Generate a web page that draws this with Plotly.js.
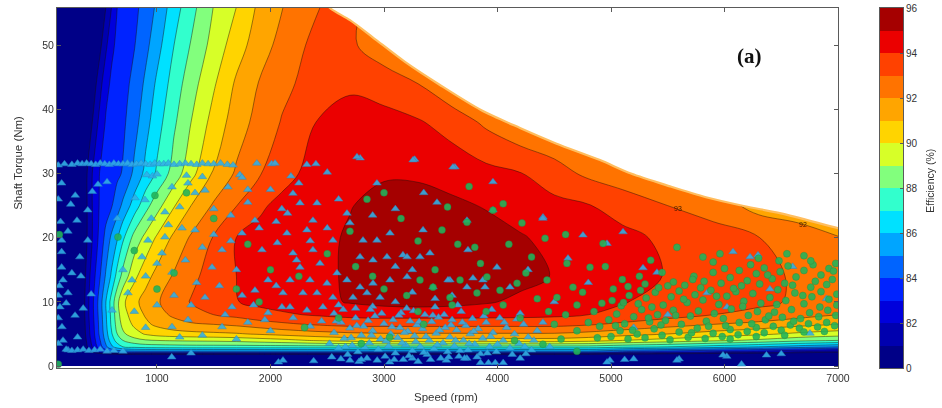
<!DOCTYPE html>
<html><head><meta charset="utf-8">
<script src="https://cdn.plot.ly/plotly-3.0.1.min.js"></script>
<style>html,body{margin:0;padding:0;background:#fff}#chart{width:942px;height:408px}</style>
</head><body><div id="chart"></div>
<script>
// ---- efficiency map grid ----
const speedGrid = [110,400,450,500,550,600,650,700,800,900,1000,1150,1300,1500,1700,1900,2100,2400,2700,3000,3300,3600,3900,4200,4500,4800,5100,5500,5900,6300,6650,7000];
const torqueGrid = [0,1.5,2.2,3,4,5,6.5,8,10,14,20,25,30,38,44,50,56];
const efficiency = [
[72,72,72,72,72,72,72,72,72,72,72,72,72,72,72,72,72,72,72,72,72,72,72,72,72,72,72,72,72,72,72,72],
[74,77,77.5,78,78,78,78,78,78,78,78,78,78,78,78,78,78,78,78,78,78,78,78,78,78,78,78,77.5,77.5,77,77,77],
[74,80.5,81.6,82.6,83.4,84.0,84.3,84.4,84.5,84.5,84.5,84.5,84.5,84.5,84.5,84.5,84.5,84.5,84.5,84.5,84.5,84.5,84.5,84.5,84.5,84.5,83.8,83.3,82.8,82.3,81.8,81.3],
[74,81.3,82.5,83.6,84.8,85.8,86.5,87.0,87.3,87.45,87.5,87.55,87.6,87.6,87.6,87.6,87.6,87.6,87.6,87.6,87.6,87.6,87.6,87.6,87.6,87.6,87.3,87.0,86.5,86.0,85.5,85.0],
[74,81.6,82.8,84.0,85.3,86.5,87.4,88.0,88.6,88.9,89.0,89.1,89.15,89.2,89.3,89.5,89.7,90.1,90.4,90.6,90.6,90.6,90.6,90.6,90.6,90.4,90.0,89.6,89.2,88.8,88.3,88.0],
[74,81.8,83.0,84.3,85.6,86.9,88.0,88.8,89.6,90.1,90.4,90.6,90.7,90.8,90.9,91.1,91.3,91.6,91.8,91.9,91.9,91.9,91.9,91.9,91.9,91.7,91.4,91.0,90.6,90.2,89.8,89.5],
[74,81.9,83.1,84.4,85.8,87.2,88.4,89.3,90.2,90.8,91.2,91.6,91.85,92.0,92.2,92.5,92.8,93.1,93.3,93.3,93.3,93.3,93.3,93.3,93.3,93.1,92.8,92.4,92.0,91.7,91.3,91.0],
[74,82.0,83.2,84.5,85.9,87.3,88.6,89.6,90.5,91.1,91.6,92.2,92.7,93.0,93.3,93.7,93.85,94.1,94.3,94.4,94.4,94.4,94.35,94.3,94.2,94.0,93.8,93.4,93.0,92.8,92.4,92.0],
[74,82.0,83.25,84.57,86.0,87.43,88.75,89.8,90.75,91.37,91.89,92.51,93.06,93.52,93.97,94.2,94.42,94.7,95.08,95.3,95.4,95.3,95.1,94.8,94.5,94.25,94.05,93.7,93.4,93.15,92.9,92.7],
[74,81.8,82.9,84.0,85.14,86.19,87.38,88.35,89.75,90.65,91.32,92.12,92.75,93.42,94.0,94.2,94.4,94.7,95.15,95.5,95.75,95.8,95.6,95.3,94.95,94.6,94.35,93.95,93.6,93.2,92.9,92.7],
[74,81.4,82.4,83.38,84.32,85.2,85.91,86.83,88.36,89.28,90.14,91.22,92.13,93.07,94.01,94.22,94.43,94.75,95.1,95.5,95.7,95.6,95.4,95.08,94.75,94.45,94.2,93.85,93.4,93.02,92.6,92.05],
[74,81.4,82.4,83.15,83.54,83.92,84.55,85.22,86.46,87.65,88.61,89.93,91.0,92.14,92.98,93.87,94.21,94.59,94.96,95.3,95.4,95.2,94.93,94.6,94.3,94.05,93.7,93.0,92.6,91.6,91.3,91.0],
[74,81.4,82.4,83.09,83.33,83.57,83.8,84.09,85.23,86.28,87.16,88.43,89.7,91.09,92.15,92.9,93.71,94.3,94.7,94.9,94.85,94.6,94.3,94.05,93.4,92.8,92.3,92.0,91.8,91.6,91.4,91.2],
[74,80.4,81.4,82.4,83.1,83.33,83.57,83.81,84.6,85.63,86.59,87.84,89.0,90.38,91.5,92.36,93.06,94.0,94.35,94.3,94.1,93.6,92.8,92.1,92.0,92.0,92.0,92.0,91.8,91.6,91.4,91.2],
[74,79.7,80.7,81.7,82.7,83.17,83.41,83.66,84.27,85.2,86.18,87.44,88.58,89.88,91.16,92.05,92.75,93.4,93.85,93.6,93.0,92.1,92.0,92.0,92.0,92.0,92.0,92.0,91.8,91.6,91.4,91.2],
[74,78.8,79.8,80.8,81.8,82.8,83.2,83.45,83.95,84.72,85.62,87.0,88.07,89.38,90.53,91.54,92.31,93.3,93.2,92.3,92.0,92.0,92.0,92.0,92.0,92.0,92.0,92.0,91.8,91.6,91.4,91.2],
[74,78,79,80,81,82,83,83.25,83.75,84.38,85.17,86.54,87.65,89.03,90.0,91.2,91.96,92.97,93.2,92.6,92.2,92.2,92.2,92.2,92.2,92.2,92.2,92.2,92.0,91.8,91.6,91.4]
];
// max-torque envelope (white area above it)
const envelopeSpeed = [2480,2524,2700,2903,3185,3493,3854,4198,4515,4903,5176,5520,5837,6180,6497,7000,7100];
const envelopeTorque = [57,55.8,53.9,51.2,47.4,43.8,39.9,37.1,34.7,32.1,30.0,28.0,26.3,24.9,23.8,21.5,21.1];

// contour band colours (below 81 ... above 95) and colour bar levels
const bandColors = ['rgb(0,0,135)','rgb(0,0,175)','rgb(0,0,220)','rgb(0,35,255)','rgb(0,100,255)','rgb(0,165,255)','rgb(0,225,255)','rgb(50,255,205)','rgb(130,255,125)','rgb(215,255,40)','rgb(255,212,0)','rgb(255,165,0)','rgb(255,115,0)','rgb(255,65,0)','rgb(235,0,0)','rgb(165,0,0)'];
const barLevels = [80,81,82,83,84,85,86,87,88,89,90,91,92,93,94,95,96];
const barTickVals = [80,82,84,86,88,90,92,94,96];
const barTickText = ['0','82','84','86','88','90','92','94','96'];
const speedTicks = [1000,2000,3000,4000,5000,6000,7000];
const torqueTicks = [0,10,20,30,40,50];

// operating points: blue triangles
const triangles = [
[130,31.3],[185,31.5],[250,31.4],[300,31.6],[340,31.5],[380,31.6],[420,31.5],[460,31.4],[500,31.6],[540,31.5],[580,31.4],[620,31.6],[660,31.5],[700,31.5],[740,31.6],[780,31.4],[820,31.5],[860,31.6],[900,31.5],[940,31.4],[980,31.6],[1020,31.5],[1060,31.5],[1100,31.6],[1150,31.4],[1200,31.5],[1250,31.6],[1300,31.5],[1350,31.4],[1400,31.6],[1450,31.5],[1500,31.5],[1560,31.6],[1620,31.4],[1670,31.3],[1880,31.6],[2010,31.5],[2320,31.4],[2400,31.5],
[2790,32.4],[3270,32.2],[2040,31.6],[2762,32.6],[3625,31.0],
[910,29.8],[960,29.6],[1000,29.9],[1260,29.7],[1400,29.5],[1730,29.8],[2180,29.6],[2500,30.2],
[160,28.5],[280,26.6],[390,24.3],[480,28.3],[560,28.7],[295,22.7],[390,19.6],[160,19.6],[320,17],[160,15.4],[172,13.4],[216,11.4],[145,9.2],[278,7.9],[163,6.1],[172,4],[216,2.5],[130,26],[240,25.2],[430,27.2],[150,22.5],[215,21],[330,14],[420,11.2],[130,11],[250,14.5],[350,9],[160,17.8],[130,3.5],[300,4.5],[140,12.5],[200,9.8],[130,7.5],
[200,2.6],[250,2.4],[300,2.5],[350,2.6],[400,2.4],[450,2.5],[500,2.6],[560,2.3],[620,2.4],[700,2.3],[1130,1.4],[1300,2.0],
[806,26.2],[894,25.9],[1132,27.9],[1273,28.5],[1335,27],[1423,27.4],[1625,27.9],[1749,29.4],[1863,22.7],[1070,24],[1220,21.5],[1335,21.2],[1070,20.1],[920,19.6],[868,17],[1044,17.6],[1132,14.6],[1485,15.4],[1573,18.1],[1749,20.7],[1925,18.1],[1978,13.4],[1863,11.8],[1661,9.2],[1423,10.7],[1273,7.2],[744,11.4],[780,13.4],[604,8.7],[1132,6.1],[1573,6.1],[1978,8.3],[2101,9.2],[1500,24.5],[1650,23.5],[1800,25.5],[2000,27.5],[2100,24.5],[2250,28.5],[1200,24.8],[1400,18.5],[1700,15],[1550,12.5],[1800,6.8],[1000,9.5],[900,14],[2000,5.5],[1400,4.8],[1700,4.2],
[1850,9.5],[1950,7.2],[2050,12.5],[2200,7.5],[2350,6.2],[2450,7.0],[2230,16.5],[2060,19.2],[1900,21.5],[2150,23.8],[1750,11],[1650,19.5],[1500,20.5],[1350,13],[1250,16.5],[1100,22],[950,23],[1150,11],[1300,9.5],[1600,8],[1200,4.5],[900,6],[800,8.5],[1000,16],[700,15],[650,23],[1800,27.5],
[2198,26.9],[2260,25.4],[2410,25.4],[2374,22.7],[2674,23.8],[2700,22.3],[2145,20.7],[2321,21.2],[2550,19.6],[2198,17.6],[2374,18.1],[2815,19.6],[2938,19.6],[2789,17],[2903,16.5],[3026,17],[3167,17.3],[3317,17],[3405,17.6],[2260,15.4],[2436,16],[2586,14.5],[2172,13.4],[2348,13.4],[2498,12.9],[2674,13.4],[2789,12.3],[2903,12.9],[3053,13.4],[3203,13.9],[2110,11.4],[2286,11.4],[2410,11.4],[2550,10.7],[2727,10.7],[2850,11.4],[2965,10.7],[2172,9.2],[2321,8.7],[2462,9.2],
[2600,9.5],[2750,9],[2900,9.3],[3100,10],[3250,11.5],[3450,10.5],[3600,11],[3100,15.5],[3250,15],[2500,21.5],[2600,26],[2350,19.5],[2050,22.5],[2900,23.5],
[3256,32.1],[3608,31],[2938,28.5],[3467,25.5],[3960,28.7],[3731,22.7],[3960,24.3],[3053,20.7],[3344,21.2],[3740,18.1],[3995,15.4],[4110,12.3],[3581,13.4],[3731,12.3],[3872,13.4],[3432,12.3],[3203,17],[3564,13.4],[3784,13.7],[3890,12.3],[4269,15],[4401,23.2],[4753,20.4],[5106,20.9],[3100,24.5],[3350,27],
[2520,3.5],[2560,5.2],[2600,2.8],[2620,6.8],[2650,4.3],[2680,1.8],[2700,5.9],[2720,3.2],[2750,7.5],[2770,2.2],[2800,4.8],[2820,6.2],[2850,1.2],[2870,3.6],[2900,5.5],[2920,7.8],[2950,2.6],[2970,4.2],[3000,6.6],[3010,1.5],[3040,3.1],[3060,5.0],[3080,7.2],[3100,2.0],[3120,4.4],[3140,6.0],[3150,8.3],[3170,1.0],[3190,3.3],[3210,5.4],[3230,7.0],[3250,2.4],[3270,4.7],[3290,6.4],[3300,0.7],[3320,3.0],[3340,5.8],[3360,8.0],[3380,1.8],[3400,4.0],[3420,6.9],[3440,2.7],[3460,5.1],[3480,7.6],[3500,1.2],[3520,3.6],[3540,6.0],[3560,2.2],[3580,4.5],[3600,7.2],[3620,3.1],[3640,5.6],[3660,1.5],[3680,8.5],[3700,4.0],[3720,6.3],[3740,2.5],[3760,5.0],[3780,7.4],[3800,3.4],[3830,5.8],[3850,1.9],[3870,4.3],[3900,6.8],[3930,3.0],[3960,5.2],[3990,2.2],[4020,7.5],[4050,4.0],[4080,6.0],[4110,2.8],[4150,5.0],[4190,3.5],[4230,6.5],[4270,4.5],[4300,2.5],[4350,5.5],[2560,8.2],[2880,8.8],[3200,9.0],[3450,9.2],[3650,9.5],[3950,8.8],[4200,8.2],[2700,0.9],[3050,0.6],[3250,1.2],[3550,0.9],[3850,0.5],[3920,0.5],[3980,0.5],[4050,0.5],
[2540,1.4],[2580,7.0],[2640,8.8],[2660,3.0],[2710,4.4],[2760,6.3],[2780,0.7],[2830,2.9],[2860,7.1],[2890,4.8],[2940,0.9],[2980,8.2],[3020,3.9],[3070,6.1],[3090,1.0],[3130,7.9],[3160,3.6],[3180,5.2],[3220,1.6],[3260,8.6],[3280,3.8],[3310,6.9],[3350,2.1],[3370,4.6],[3410,1.0],[3430,7.9],[3470,3.3],[3490,5.6],[3530,8.0],[3570,1.4],[3590,6.4],[3630,4.0],[3670,2.4],[3690,6.8],[3730,1.2],[3750,3.5],[3790,5.4],[3820,1.4],[3880,7.8],[3910,2.0],[3940,4.6],[4000,3.4],[4060,6.8],[4130,1.8],[4170,7.3],[4240,3.0],[4320,4.0],[4400,6.8],[4250,1.9],[4460,3.0],
[2070,0.6],[2110,0.9],[2380,0.8],[2620,1.1],[2800,1.0],[3710,1.2],[4200,1.2],[4990,0.9],[5120,1.0],[5200,1.1],[5600,1.1],[6150,0.3],[6020,1.5],[6370,1.7],[6500,1.9],[4965,0.6],[5581,0.9],[5987,1.7],
[4400,23],[4621,16.8],[4965,19.1],[5282,15.3],[5405,14.6],[6075,17.8],[6225,17],[6295,17.3],[6022,9.2],[5846,11.4],[6753,5.1],[5500,8],[6400,12],[6900,10.5],[5200,6],[4500,10],[4800,13],[6600,15.5]
];
// operating points: green circles
const circles = [
[5000,4.6],[5080,5.5],[5150,4.2],[5230,5.0],[5300,4.4],[5380,5.8],[5450,4.8],[5520,4.1],[5600,5.3],[5680,4.5],[5760,5.9],[5830,4.3],[5900,5.1],[5980,4.6],[6050,5.7],[6120,4.9],[6200,5.4],[6280,6.0],[6350,5.2],[6430,6.2],[6500,5.6],[6580,6.4],[6660,5.9],[6740,6.6],[6820,6.1],[6900,6.8],[6970,6.3],
[4980,7.2],[5050,8.1],[5120,6.6],[5200,7.7],[5270,8.8],[5340,6.9],[5410,8.0],[5480,7.1],[5550,8.7],[5620,6.5],[5700,7.8],[5770,8.6],[5840,7.0],[5910,8.2],[5990,7.4],[6060,8.9],[6130,6.8],[6210,7.9],[6290,8.5],[6360,7.2],[6440,8.4],[6510,7.6],[6590,8.8],[6670,7.4],[6750,8.3],[6830,7.7],[6910,8.7],[6980,7.9],
[5010,10.2],[5090,9.4],[5160,11.0],[5240,9.7],[5310,10.6],[5390,11.5],[5460,9.5],[5530,10.8],[5600,11.7],[5670,9.9],[5740,11.1],[5810,10.3],[5880,11.8],[5950,9.6],[6020,10.9],[6100,11.6],[6170,10.1],[6250,11.3],[6320,9.8],[6400,10.7],[6470,11.9],[6540,10.2],[6620,11.4],[6700,9.7],[6770,10.8],[6850,11.6],[6920,10.4],[6990,11.2],
[5150,12.4],[5300,12.8],[5420,12.2],[5550,13.1],[5650,12.6],[5730,14.0],[5820,13.2],[5900,14.6],[5970,12.9],[6050,13.8],[6130,14.9],[6200,13.3],[6280,14.4],[6350,15.3],[6420,13.6],[6490,14.7],[6560,15.6],[6630,13.9],[6700,14.9],[6780,15.8],[6850,14.2],[6920,15.2],[6980,16.0],[6900,12.7],[6600,12.6],[6150,12.5],
[5581,18.5],[5810,17],[6300,16.8],[6700,17.2],[5900,16.2],[6480,16.4],
[4900,6.2],[4850,8.5],[4920,9.8],[4880,4.4],[4800,6.8],
[5040,6.3],[5110,9.9],[5190,5.6],[5260,11.8],[5330,7.5],[5360,9.2],[5440,6.4],[5500,12.5],[5570,7.9],[5640,10.4],[5710,5.2],[5790,12.2],[5860,6.2],[5930,10.9],[6010,6.3],[6080,12.1],[6160,9.3],[6240,6.6],[6310,12.8],[6390,7.8],[6460,9.6],[6530,12.9],[6610,7.0],[6690,11.0],[6760,12.3],[6840,9.2],[6950,13.5],[6880,5.4],[6700,5.3],[6530,4.8],[6280,4.6],[6050,4.2],[5720,13.5],[6000,15.2],[6380,14.2],[6800,13.2],[5250,14.0],[5450,14.6],[5100,13.5],[6990,9.5],[6960,14.8],[6760,16.4],[6550,17.5],[6230,15.8],[5960,17.5],[5350,16.5],[5020,12.0],[4950,15.5],[4750,11.5],[4600,8.0],[4560,4.2],[4350,10.5],[4250,14.5],[4050,9.5],[3850,16],[3650,19],[3450,15],[3300,8.5],[3000,12],[2750,15.5],
[3511,21.2],[3731,22.4],[3960,24.3],[4216,22.3],[4419,19.9],[4612,16],[4665,12.3],[4815,15.4],[4436,13.4],[4524,10.7],[4172,12.9],[4022,11.8],[3819,11.4],[3581,10.7],[3432,12.3],[3317,13.4],[3670,13.4],[3907,13.9],[4930,19.1],[3000,27],[3560,24.8],[4050,25.3],[2700,21],[2500,17.5],[2900,14],[3200,11],[3600,9.5],[3900,8.5],[4200,7.5],[4500,6.5],[4700,5.5],[2300,6],[2600,7.5],[2000,15],[1800,19],[1500,23],[1150,14.5],[1000,12],[800,18],[656,20.1],[982,26.6],[1260,27],[3150,23],[3300,19.5],[3800,18.5],[4300,17],[4600,20.5],[2850,26],[3750,28],[4100,19],[4450,8.5],[4700,9.5],[3350,6.5],[3050,4.5],[2800,3.5],[4150,4],[4400,3.4],[4700,2.3],[130,0.3],[140,20.5],[1900,10],[2250,14],[1700,12]
];

// ---- colour scales built from the band colours ----
const nB = bandColors.length;
const contourScale = [];
for (let k = 0; k < nB; k++) {
  const lo = k === 0 ? 0 : (k - 0.5) / (nB - 1);
  const hi = k === nB - 1 ? 1 : (k + 0.5) / (nB - 1);
  contourScale.push([lo, bandColors[k]], [hi, bandColors[k]]);
}
const barScale = [];
for (let k = 0; k < nB; k++) {
  barScale.push([k / nB, bandColors[k]], [(k + 1) / nB, bandColors[k]]);
}
const barCenters = barLevels.slice(0, -1).map(v => v + 0.5);

const FONT = 'Liberation Sans, Arial, sans-serif';
const traces = [
  {type:'contour', x:speedGrid, y:torqueGrid, z:efficiency, autocontour:false,
   contours:{start:81, end:95, size:1, coloring:'fill', showlines:true},
   colorscale:contourScale, showscale:false,
   line:{color:'rgba(25,15,10,0.75)', width:0.6, smoothing:1}, hoverinfo:'skip'},
  {type:'scatter', mode:'lines', x:envelopeSpeed.concat([7100,2480]), y:envelopeTorque.concat([62,62]),
   fill:'toself', fillcolor:'#ffffff', line:{width:0}, hoverinfo:'skip', showlegend:false},
  {type:'scatter', mode:'lines', x:envelopeSpeed, y:envelopeTorque,
   line:{color:'rgb(255,190,95)', width:2.2, shape:'spline', smoothing:0.8}, hoverinfo:'skip', showlegend:false},
  {type:'scatter', mode:'markers', x:triangles.map(p=>p[0]), y:triangles.map(p=>p[1]),
   marker:{symbol:'triangle-up', size:7.5, color:'rgb(50,175,230)', line:{width:0.5, color:'rgb(40,135,195)'}},
   opacity:0.9, hoverinfo:'skip', showlegend:false},
  {type:'scatter', mode:'markers', x:circles.map(p=>p[0]), y:circles.map(p=>p[1]),
   marker:{symbol:'circle', size:7, color:'rgb(35,180,90)', line:{width:0.4, color:'rgb(20,140,70)'}},
   opacity:0.9, hoverinfo:'skip', showlegend:false},
  {type:'heatmap', x:[0], y:barCenters, z:barCenters.map(v=>[v]), zmin:80, zmax:96,
   colorscale:barScale, showscale:false, xaxis:'x2', yaxis:'y2', hoverinfo:'skip'}
];

const axisCommon = {showgrid:false, zeroline:false, showline:true, linecolor:'#5a5a5a', linewidth:1,
  ticks:'inside', ticklen:4, tickcolor:'#5a5a5a', tickfont:{family:FONT, size:10.5, color:'#333'}};

const layout = {
  width:942, height:408, margin:{l:57, r:32, t:8, b:40},
  paper_bgcolor:'#fff', plot_bgcolor:'#fff', showlegend:false,
  xaxis:Object.assign({}, axisCommon, {domain:[0,0.91559], range:[119,7000], tickvals:speedTicks, mirror:'ticks', anchor:'y'}),
  yaxis:Object.assign({}, axisCommon, {domain:[0,1], range:[-0.3,55.8], tickvals:torqueTicks, mirror:'ticks', anchor:'x'}),
  xaxis2:{domain:[0.96483,0.99179], range:[-0.5,0.5], showgrid:false, zeroline:false, showticklabels:false,
    ticks:'', showline:true, mirror:true, linecolor:'#5a5a5a', anchor:'y2'},
  yaxis2:Object.assign({}, axisCommon, {domain:[0,1], range:[80,96], side:'right', anchor:'x2', mirror:true,
    tickvals:barTickVals, ticktext:barTickText, ticklen:3, tickfont:{family:FONT, size:10, color:'#333'}}),
  annotations:[
    {xref:'x', yref:'y', x:6224, y:48.3, text:'<b>(a)</b>', showarrow:false,
     font:{family:'Liberation Serif, Times New Roman, serif', size:21, color:'#111'}},
    {xref:'x', yref:'y', x:5590, y:24.6, text:'93', showarrow:false, font:{family:FONT, size:7, color:'#3a1800'}},
    {xref:'x', yref:'y', x:6691, y:22.1, text:'92', showarrow:false, font:{family:FONT, size:7, color:'#3a1800'}},
    {xref:'paper', yref:'paper', x:0.456, y:-0.08, text:'Speed (rpm)', showarrow:false,
     xanchor:'center', yanchor:'middle', font:{family:FONT, size:11.5, color:'#333'}},
    {xref:'paper', yref:'paper', x:-0.0457, y:0.57, text:'Shaft Torque (Nm)', showarrow:false, textangle:-90,
     xanchor:'center', yanchor:'middle', font:{family:FONT, size:11.5, color:'#333'}},
    {xref:'paper', yref:'paper', x:1.0234, y:0.52, text:'Efficiency (%)', showarrow:false, textangle:-90,
     xanchor:'center', yanchor:'middle', font:{family:FONT, size:10.5, color:'#333'}}
  ]
};

Plotly.newPlot('chart', traces, layout, {staticPlot:true, displayModeBar:false});
</script>
</body></html>
